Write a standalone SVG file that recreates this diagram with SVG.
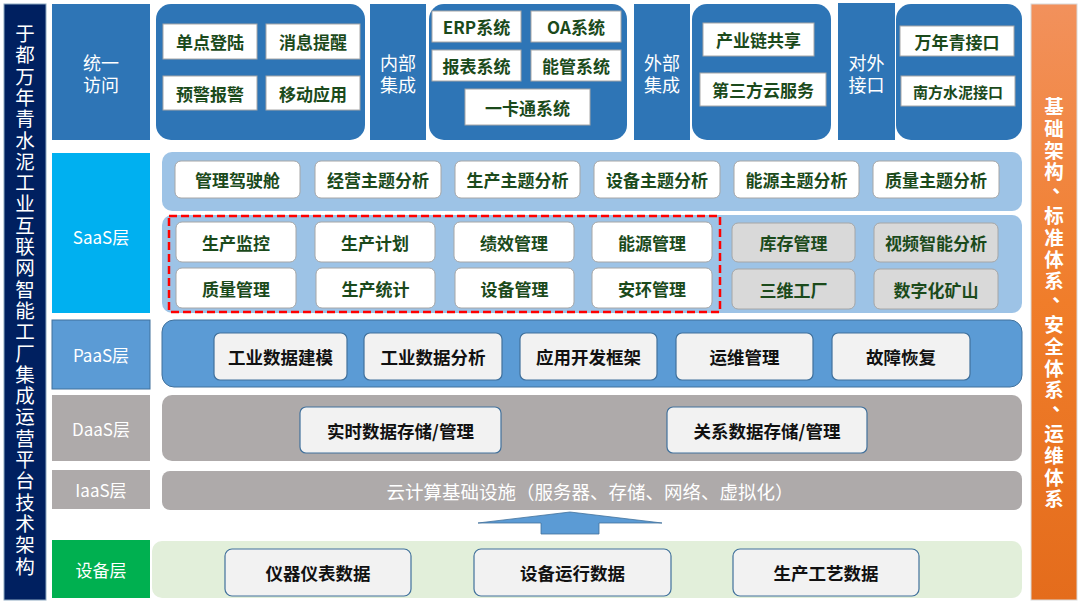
<svg xmlns="http://www.w3.org/2000/svg" width="1080" height="608" viewBox="0 0 1080 608">
<defs>
<linearGradient id="og" x1="0" y1="0" x2="0" y2="1">
<stop offset="0" stop-color="#F2915C"/>
<stop offset="0.5" stop-color="#F07D2A"/>
<stop offset="1" stop-color="#E46C1C"/>
</linearGradient>
<style>
text{font-family:"Noto Sans CJK SC","Noto Sans",sans-serif;text-anchor:middle;dominant-baseline:central}
.lbl{fill:#fff;font-size:17px}
.top{fill:#fff;font-size:18px}
.vt{fill:#fff;font-size:19.5px}
.gb{fill:#fff;stroke:#A6A6A6;stroke-width:1}
.gt{fill:#1B4A1B;font-size:17px;font-weight:bold}
.rb{fill:#fff;stroke:#A6A6A6;stroke-width:1}
.gr{fill:#D9D9D9;stroke:#A6A6A6;stroke-width:1}
.pb{fill:#F2F2F2;stroke:#41719C;stroke-width:1.2}
.pt{fill:#111;font-size:17.5px;font-weight:bold}
.blue{fill:#2E75B6}
</style>
</defs>
<rect width="1080" height="608" fill="#fff"/>

<g id="left-title">
<rect x="4" y="4" width="42" height="596" fill="#002060" stroke="#8EA9C1" stroke-width="1"/>
<text class="vt" x="25">
<tspan x="25" y="32">于</tspan><tspan x="25" y="53.3">都</tspan><tspan x="25" y="74.6">万</tspan><tspan x="25" y="95.9">年</tspan><tspan x="25" y="117.2">青</tspan><tspan x="25" y="138.5">水</tspan><tspan x="25" y="159.8">泥</tspan><tspan x="25" y="181.1">工</tspan><tspan x="25" y="202.4">业</tspan><tspan x="25" y="223.7">互</tspan><tspan x="25" y="245">联</tspan><tspan x="25" y="266.3">网</tspan><tspan x="25" y="287.6">智</tspan><tspan x="25" y="308.9">能</tspan><tspan x="25" y="330.2">工</tspan><tspan x="25" y="351.5">厂</tspan><tspan x="25" y="372.8">集</tspan><tspan x="25" y="394.1">成</tspan><tspan x="25" y="415.4">运</tspan><tspan x="25" y="436.7">营</tspan><tspan x="25" y="458">平</tspan><tspan x="25" y="479.3">台</tspan><tspan x="25" y="500.6">技</tspan><tspan x="25" y="521.9">术</tspan><tspan x="25" y="543.2">架</tspan><tspan x="25" y="564.5">构</tspan>
</text>
</g>

<g id="right-title">
<rect x="1031" y="4" width="46" height="596" fill="url(#og)" stroke="#D9D9D9" stroke-width="1"/>
<text class="vt" style="font-weight:bold">
<tspan x="1054" y="105">基</tspan><tspan x="1054" y="126.8">础</tspan><tspan x="1054" y="148.6">架</tspan><tspan x="1054" y="170.4">构</tspan><tspan x="1062" y="184">、</tspan><tspan x="1054" y="214">标</tspan><tspan x="1054" y="235.8">准</tspan><tspan x="1054" y="257.6">体</tspan><tspan x="1054" y="279.4">系</tspan><tspan x="1062" y="293">、</tspan><tspan x="1054" y="323">安</tspan><tspan x="1054" y="344.8">全</tspan><tspan x="1054" y="366.6">体</tspan><tspan x="1054" y="388.4">系</tspan><tspan x="1062" y="402">、</tspan><tspan x="1054" y="432">运</tspan><tspan x="1054" y="453.8">维</tspan><tspan x="1054" y="475.6">体</tspan><tspan x="1054" y="497.4">系</tspan>
</text>
</g>

<g id="access">
<rect class="blue" x="52" y="4" width="98" height="136"/>
<text class="top" x="101" y="62">统一</text>
<text class="top" x="101" y="84">访问</text>
<rect class="blue" x="156" y="4" width="209" height="136" rx="15"/>
<rect class="gb" x="163" y="24" width="94" height="35"/><text class="gt" x="210" y="41.5">单点登陆</text>
<rect class="gb" x="266" y="24" width="94" height="35"/><text class="gt" x="313" y="41.5">消息提醒</text>
<rect class="gb" x="163" y="76" width="94" height="34"/><text class="gt" x="210" y="93">预警报警</text>
<rect class="gb" x="266" y="76" width="94" height="34"/><text class="gt" x="313" y="93">移动应用</text>
</g>

<g id="internal">
<rect class="blue" x="370" y="4" width="56" height="136"/>
<text class="top" x="398" y="62">内部</text>
<text class="top" x="398" y="84">集成</text>
<rect class="blue" x="429" y="4" width="198" height="136" rx="15"/>
<rect class="gb" x="432" y="11" width="89" height="31"/><text class="gt" x="476.5" y="26.5">ERP系统</text>
<rect class="gb" x="531" y="11" width="90" height="31"/><text class="gt" x="576" y="26.5">OA系统</text>
<rect class="gb" x="432" y="50" width="89" height="31"/><text class="gt" x="476.5" y="65.5">报表系统</text>
<rect class="gb" x="531" y="50" width="90" height="31"/><text class="gt" x="576" y="65.5">能管系统</text>
<rect class="gb" x="465" y="89" width="125" height="36"/><text class="gt" x="527.5" y="107">一卡通系统</text>
</g>

<g id="external">
<rect class="blue" x="634" y="4" width="56" height="136"/>
<text class="top" x="662" y="62">外部</text>
<text class="top" x="662" y="84">集成</text>
<rect class="blue" x="692" y="4" width="139" height="136" rx="15"/>
<rect class="gb" x="703" y="23" width="111" height="33"/><text class="gt" x="758.5" y="39.5">产业链共享</text>
<rect class="gb" x="700" y="73" width="126" height="33"/><text class="gt" x="763" y="89.5">第三方云服务</text>
</g>

<g id="interface">
<rect class="blue" x="838" y="3" width="57" height="137"/>
<text class="top" x="866.5" y="62">对外</text>
<text class="top" x="866.5" y="84">接口</text>
<rect class="blue" x="896" y="4" width="126" height="136" rx="15"/>
<rect class="gb" x="900" y="26" width="114" height="30"/><text class="gt" x="957" y="41">万年青接口</text>
<rect class="gb" x="901" y="76" width="114" height="30"/><text class="gt" x="958" y="91" style="font-size:15px">南方水泥接口</text>
</g>

<g id="saas">
<rect x="52" y="153" width="98" height="160" fill="#00B0F0"/>
<text class="lbl" x="101" y="236">SaaS层</text>
<rect x="162" y="152" width="860" height="59" rx="10" fill="#9DC3E6"/>
<rect class="rb" x="175" y="161" width="125" height="37" rx="6"/><text class="gt" x="237.5" y="179.5">管理驾驶舱</text>
<rect class="rb" x="315" y="161" width="126" height="37" rx="6"/><text class="gt" x="378" y="179.5">经营主题分析</text>
<rect class="rb" x="455" y="161" width="125" height="37" rx="6"/><text class="gt" x="517.5" y="179.5">生产主题分析</text>
<rect class="rb" x="594" y="161" width="126" height="37" rx="6"/><text class="gt" x="657" y="179.5">设备主题分析</text>
<rect class="rb" x="734" y="161" width="125" height="37" rx="6"/><text class="gt" x="796.5" y="179.5">能源主题分析</text>
<rect class="rb" x="873" y="161" width="126" height="37" rx="6"/><text class="gt" x="936" y="179.5">质量主题分析</text>
<rect x="162" y="215" width="860" height="98" rx="10" fill="#9DC3E6"/>
<rect class="rb" x="176" y="222" width="120" height="40" rx="6"/><text class="gt" x="236" y="242">生产监控</text>
<rect class="rb" x="315" y="222" width="120" height="40" rx="6"/><text class="gt" x="375" y="242">生产计划</text>
<rect class="rb" x="454" y="222" width="120" height="40" rx="6"/><text class="gt" x="514" y="242">绩效管理</text>
<rect class="rb" x="592" y="222" width="120" height="40" rx="6"/><text class="gt" x="652" y="242">能源管理</text>
<rect class="rb" x="176" y="268" width="120" height="40" rx="6"/><text class="gt" x="236" y="288">质量管理</text>
<rect class="rb" x="316" y="268" width="119" height="40" rx="6"/><text class="gt" x="375.5" y="288">生产统计</text>
<rect class="rb" x="455" y="268" width="119" height="40" rx="6"/><text class="gt" x="514.5" y="288">设备管理</text>
<rect class="rb" x="592" y="268" width="120" height="40" rx="6"/><text class="gt" x="652" y="288">安环管理</text>
<rect x="169" y="216" width="551" height="96" fill="none" stroke="#FF0000" stroke-width="2.5" stroke-dasharray="8 4"/>
<rect class="gr" x="732" y="223" width="123" height="39" rx="6"/><text class="gt" x="793.5" y="242.5">库存管理</text>
<rect class="gr" x="874" y="223" width="124" height="39" rx="6"/><text class="gt" x="936" y="242.5">视频智能分析</text>
<rect class="gr" x="732" y="269" width="123" height="40" rx="6"/><text class="gt" x="793.5" y="289">三维工厂</text>
<rect class="gr" x="874" y="269" width="124" height="40" rx="6"/><text class="gt" x="936" y="289">数字化矿山</text>
</g>

<g id="paas">
<rect x="52" y="320" width="98" height="69" fill="#5B9BD5" stroke="#41719C" stroke-width="1"/>
<text class="lbl" x="101" y="354">PaaS层</text>
<rect x="162" y="320" width="860" height="67" rx="12" fill="#5B9BD5" stroke="#41719C" stroke-width="1"/>
<rect class="pb" x="214" y="333" width="133" height="47" rx="6"/><text class="pt" x="280.5" y="356.5">工业数据建模</text>
<rect class="pb" x="364" y="333" width="138" height="47" rx="6"/><text class="pt" x="433" y="356.5">工业数据分析</text>
<rect class="pb" x="520" y="333" width="137" height="47" rx="6"/><text class="pt" x="588.5" y="356.5">应用开发框架</text>
<rect class="pb" x="676" y="333" width="137" height="47" rx="6"/><text class="pt" x="744.5" y="356.5">运维管理</text>
<rect class="pb" x="832" y="333" width="138" height="47" rx="6"/><text class="pt" x="901" y="356.5">故障恢复</text>
</g>

<g id="daas">
<rect x="52" y="395" width="98" height="66" fill="#AEAAAA"/>
<text class="lbl" x="101" y="428">DaaS层</text>
<rect x="162" y="395" width="860" height="66" rx="10" fill="#AEAAAA"/>
<rect class="pb" x="300" y="407" width="201" height="46" rx="6"/><text class="pt" x="400.5" y="430">实时数据存储/管理</text>
<rect class="pb" x="667" y="407" width="200" height="46" rx="6"/><text class="pt" x="767" y="430">关系数据存储/管理</text>
</g>

<g id="iaas">
<rect x="52" y="470" width="98" height="39" fill="#AEAAAA"/>
<text class="lbl" x="101" y="489.5">IaaS层</text>
<rect x="162" y="471" width="860" height="39" rx="8" fill="#AEAAAA"/>
<text class="lbl" x="590" y="490.5" style="font-size:18.5px">云计算基础设施（服务器、存储、网络、虚拟化）</text>
</g>

<g id="connectors">
<polygon points="570,512 662,523 599,523 599,534 541,534 541,523 478,523" fill="#5B9BD5" stroke="#41719C" stroke-width="0.8"/>
</g>

<g id="device">
<rect x="52" y="540" width="98" height="58" fill="#00B050"/>
<text class="lbl" x="101" y="569">设备层</text>
<rect x="152" y="541" width="870" height="57" rx="10" fill="#E2EFDA"/>
<rect class="pb" x="225" y="549" width="186" height="47" rx="7"/><text class="pt" x="318" y="572.5">仪器仪表数据</text>
<rect class="pb" x="474" y="549" width="197" height="47" rx="7"/><text class="pt" x="572.5" y="572.5">设备运行数据</text>
<rect class="pb" x="733" y="549" width="186" height="47" rx="7"/><text class="pt" x="826" y="572.5">生产工艺数据</text>
</g>
</svg>
